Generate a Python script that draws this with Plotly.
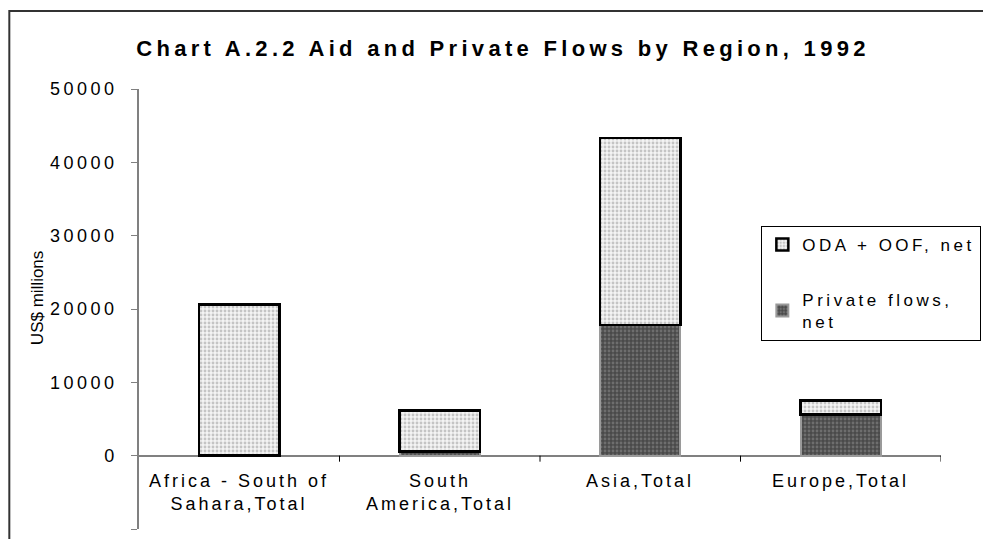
import plotly.graph_objects as go

categories = ["Africa - South of|Sahara,Total", "South|America,Total", "Asia,Total", "Europe,Total"]
private_flows = [0, 600, 17800, 5600]
oda_oof = [20600, 5550, 25500, 1900]
series_names = ["ODA + OOF, net", "Private flows,|net"]
y_ticks = [-10000, 0, 10000, 20000, 30000, 40000, 50000]
title_text = "Chart A.2.2 Aid and Private Flows by Region, 1992"

FONT = "Liberation Sans, Arial, sans-serif"


def spaced(text, ls):
    """Wrap each line (split on '|') in a letter-spaced span."""
    return "<br>".join(f'<span style="letter-spacing:{ls}px">{p}</span>' for p in text.split("|"))


xpos = list(range(len(categories)))

fig = go.Figure()
fig.add_trace(go.Bar(
    x=xpos, y=private_flows, name=spaced(series_names[1], 3.5), width=0.4,
    legendgroup="b", legendrank=2,
    marker=dict(color="#505050",
                line=dict(color="#9a9a9a", width=2),
                pattern=dict(shape=".", fgcolor="#6e6e6e", bgcolor="#4a4a4a",
                             size=4, solidity=0.4, fillmode="replace")),
))
fig.add_trace(go.Bar(
    x=xpos, y=oda_oof, name=spaced(series_names[0], 3.5), width=0.4,
    legendgroup="a", legendrank=1,
    marker=dict(color="#eeeeee",
                line=dict(color="#000000", width=2.5),
                pattern=dict(shape=".", fgcolor="#c4c4c4", bgcolor="#f4f4f4",
                             size=4, solidity=0.4, fillmode="replace")),
))

# category labels below the zero line
for i, c in enumerate(categories):
    fig.add_annotation(x=i, y=0, xref="x", yref="y", text=spaced(c, 3),
                       showarrow=False, xanchor="center",
                       yanchor="top", yshift=-13, align="center",
                       font=dict(family=FONT, size=18, color="#000"))
# tick marks between categories on the zero line
for i in range(len(categories)):
    fig.add_shape(type="line", xref="x", yref="y", x0=i + 0.5, x1=i + 0.5,
                  ysizemode="pixel", yanchor=0, y0=0, y1=-6,
                  line=dict(color="#000", width=1))

# y-axis title
fig.add_annotation(text="US$ millions", xref="paper", yref="paper",
                   x=-0.127, y=0.525, xanchor="center", yanchor="middle",
                   textangle=-90, showarrow=False,
                   font=dict(family="Liberation Sans Narrow, Liberation Sans, Arial", size=17, color="#000"))

# outer frame
fig.add_shape(type="rect", xref="paper", yref="paper",
              x0=-0.1617, x1=1.07, y0=-0.1, y1=1.177,
              line=dict(color="#333333", width=2), layer="below")

W, H = 983, 531  # page adds 8px body margin
fig.update_layout(
    width=W, height=H,
    margin=dict(l=131, r=48, t=81, b=10),
    paper_bgcolor="white", plot_bgcolor="white",
    barmode="stack",
    showlegend=True,
    title=dict(text="<b>" + spaced(title_text, 4.3) + "</b>",
               x=495 / W, xref="container", xanchor="center",
               y=1 - 40 / H, yanchor="middle",
               font=dict(family=FONT, size=22, color="#000")),
    legend=dict(x=0.776, y=0.689, xanchor="left", yanchor="top",
                bgcolor="white", bordercolor="#000", borderwidth=1,
                font=dict(family=FONT, size=17, color="#000"),
                tracegroupgap=30, traceorder="grouped"),
    xaxis=dict(range=[-0.5, len(categories) - 0.5], showticklabels=False,
               showgrid=False, zeroline=False, showline=False, ticks=""),
    yaxis=dict(range=[-10000, 50000], tickvals=y_ticks,
               ticktext=[spaced(str(v), 3.5) for v in y_ticks],
               showgrid=False, showline=True, linecolor="#808080", linewidth=1.5,
               ticks="outside", ticklen=6, tickcolor="#808080",
               zeroline=True, zerolinecolor="#808080", zerolinewidth=2,
               tickfont=dict(family=FONT, size=18, color="#000"),
               ticklabelstandoff=10),
)

fig.write_html("out.html")
